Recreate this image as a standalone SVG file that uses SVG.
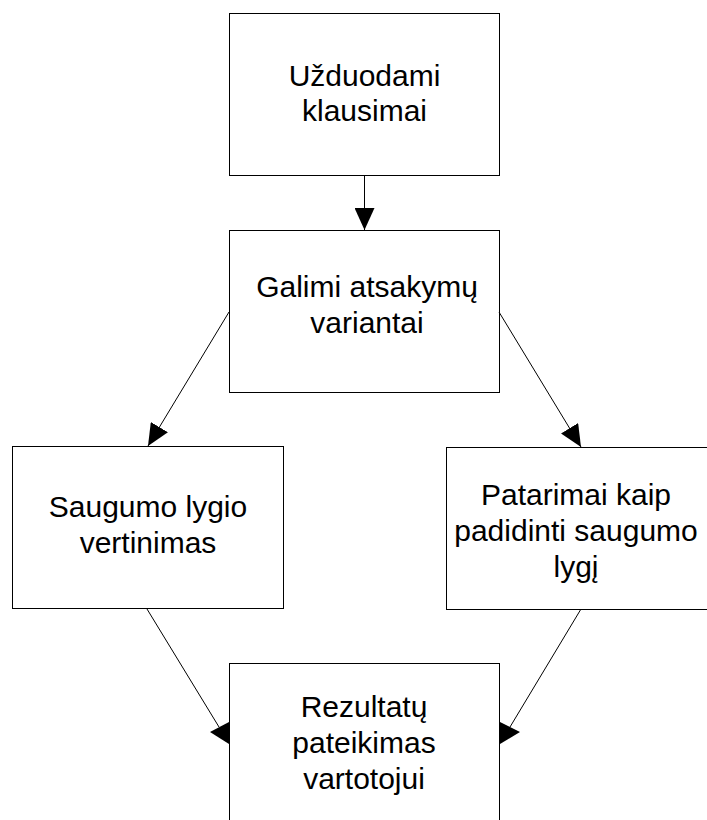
<svg xmlns="http://www.w3.org/2000/svg" width="707" height="820" viewBox="0 0 707 820">
<style>
.box{fill:#fff;stroke:#000;stroke-width:1}
.lbl{font-family:"Liberation Sans",Arial,sans-serif;font-size:30px;fill:#000;text-anchor:middle}
.ln{stroke:#000;stroke-width:1;fill:none}
.hd{fill:#000;stroke:none}
</style>
<defs>
<marker id="ah" markerUnits="userSpaceOnUse" markerWidth="22" markerHeight="20" refX="22" refY="10" orient="auto">
<path d="M0,0 L22,10 L0,20 z" fill="#000"/>
</marker>
</defs>
<rect width="707" height="820" fill="#fff"/>
<g id="n1">
<rect class="box" x="229.5" y="13.5" width="270" height="162"/>
<text class="lbl" x="364.5" y="86">Užduodami</text>
<text class="lbl" x="364.5" y="121">klausimai</text>
</g>
<g id="n2">
<rect class="box" x="229.5" y="230.5" width="270" height="162"/>
<text class="lbl" x="367" y="297">Galimi atsakymų</text>
<text class="lbl" x="367" y="333">variantai</text>
</g>
<g id="n3">
<rect class="box" x="12.5" y="446.5" width="271" height="162"/>
<text class="lbl" x="148" y="517">Saugumo lygio</text>
<text class="lbl" x="148" y="553">vertinimas</text>
</g>
<g id="n4">
<rect class="box" x="446.5" y="447.5" width="271" height="162"/>
<text class="lbl" x="576" y="505">Patarimai kaip</text>
<text class="lbl" x="576" y="541">padidinti saugumo</text>
<text class="lbl" x="576" y="577">lygį</text>
</g>
<g id="n5">
<rect class="box" x="229.5" y="663.5" width="270" height="162"/>
<text class="lbl" x="364" y="717">Rezultatų</text>
<text class="lbl" x="364" y="753">pateikimas</text>
<text class="lbl" x="364" y="789">vartotojui</text>
</g>
<g id="connectors">
<line class="ln" x1="364.5" y1="175.5" x2="364.5" y2="230" marker-end="url(#ah)"/>
<line class="ln" x1="229" y1="312" x2="148" y2="446" marker-end="url(#ah)"/>
<line class="ln" x1="499" y1="312" x2="581" y2="447" marker-end="url(#ah)"/>
<line class="ln" x1="147" y1="609" x2="219" y2="727"/>
<polygon class="hd" points="210,732 229,722 229,744"/>
<line class="ln" x1="581" y1="609" x2="510" y2="727"/>
<polygon class="hd" points="500,722 500,744 520,732"/>
</g>
</svg>
